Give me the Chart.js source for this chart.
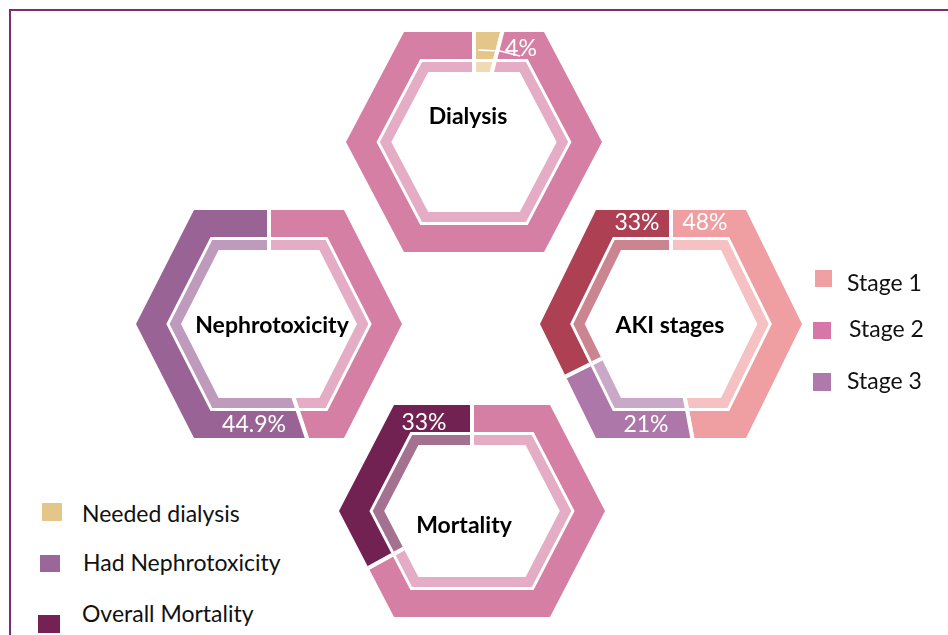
<!DOCTYPE html>
<html>
<head>
<meta charset="utf-8">
<script src="https://cdn.jsdelivr.net/npm/chart.js@4.4.0/dist/chart.umd.min.js"></script>
<style>
  html, body { margin: 0; padding: 0; background: #fff; overflow: hidden; }
  body { width: 948px; height: 635px; position: relative; font-family: Lato, "Open Sans", sans-serif; }
  .frame { position: absolute; left: 9px; top: 9px; width: 960px; height: 640px;
           border-left: 2px solid #7b2d6f; border-top: 2px solid #7b2d6f; }
  canvas.hex { position: absolute; }
  .box { position: absolute; }
  .txt { position: absolute; font-size: 23px; line-height: 26px; color: #111; white-space: nowrap; }
</style>
</head>
<body>
<div class="frame"></div>
<script>
// values
const dialysisLabels = ['Needed dialysis', 'No dialysis'];
const dialysisValues = [4, 96];
const nephroLabels = ['No nephrotoxicity', 'Had Nephrotoxicity'];
const nephroValues = [44.9, 55.1];
const akiLabels = ['Stage 1', 'Stage 3', 'Stage 2'];
const akiValues = [48, 21, 33];
const mortalityLabels = ['Survived', 'Overall Mortality'];
const mortalityValues = [67, 33];

const summaryLegend = ['Needed dialysis', 'Had Nephrotoxicity', 'Overall Mortality'];
const stageLegend = ['Stage 1', 'Stage 2', 'Stage 3'];

// hexagon outline, inset by d pixels on every side
function hexPath(ctx, cx, cy, h, d) {
    const L = Math.hypot(h.R - h.T, h.H);
    const R = h.R - d * L / h.H;
    const H = h.H - d;
    const T = R - (h.R - h.T) * H / h.H;
    ctx.moveTo(cx - T, cy - H);
    ctx.lineTo(cx + T, cy - H);
    ctx.lineTo(cx + R, cy);
    ctx.lineTo(cx + T, cy + H);
    ctx.lineTo(cx - T, cy + H);
    ctx.lineTo(cx - R, cy);
    ctx.closePath();
}

function centerOf(chart) {
    const arc = chart.getDatasetMeta(0).data[0];
    return { x: arc.x, y: arc.y };
}

// clips the doughnut arcs to a thick outer hexagon band and a thin inner band
const hexRing = {
    id: 'hexRing',
    beforeDatasetsDraw(chart, args, opts) {
        const ctx = chart.ctx;
        const c = centerOf(chart);
        ctx.save();
        ctx.beginPath();
        [0, 27, 30, 40].forEach(d => hexPath(ctx, c.x, c.y, opts.hex, d));
        ctx.clip('evenodd');
    },
    afterDatasetsDraw(chart, args, opts) {
        const ctx = chart.ctx;
        const c = centerOf(chart);
        ctx.restore();
        // lighter inner band
        ctx.save();
        ctx.beginPath();
        hexPath(ctx, c.x, c.y, opts.hex, 30);
        hexPath(ctx, c.x, c.y, opts.hex, 40);
        ctx.fillStyle = 'rgba(255,255,255,0.36)';
        ctx.fill('evenodd');
        ctx.restore();
    },
    afterDraw(chart, args, opts) {
        const ctx = chart.ctx;
        const c = centerOf(chart);
        const data = chart.data.datasets[0].data;
        ctx.save();
        ctx.textAlign = 'center';
        ctx.textBaseline = 'middle';
        ctx.fillStyle = '#000';
        ctx.font = 'bold 23px Lato';
        ctx.fillText(opts.title.text, c.x + opts.title.dx, c.y + opts.title.dy);
        ctx.fillStyle = '#fff';
        ctx.strokeStyle = '#fff';
        ctx.lineWidth = 1.5;
        ctx.font = '23px Lato';
        opts.tags.forEach(t => {
            ctx.fillText(data[t.index] + '%', c.x + t.dx, c.y + t.dy);
            if (t.leader) {
                ctx.beginPath();
                ctx.moveTo(c.x + t.leader[0][0], c.y + t.leader[0][1]);
                t.leader.slice(1).forEach(p => ctx.lineTo(c.x + p[0], c.y + p[1]));
                ctx.stroke();
            }
        });
        ctx.restore();
    }
};

function hexChart(cx, cy, labels, values, colors, hex, title, tags) {
    const canvas = document.createElement('canvas');
    canvas.className = 'hex';
    canvas.width = 300;
    canvas.height = 300;
    canvas.style.left = (cx - 150) + 'px';
    canvas.style.top = (cy - 150) + 'px';
    document.body.appendChild(canvas);
    return new Chart(canvas.getContext('2d'), {
        type: 'doughnut',
        data: {
            labels: labels,
            datasets: [{
                data: values,
                backgroundColor: colors,
                borderColor: '#fff',
                borderWidth: 4
            }]
        },
        options: {
            responsive: false,
            animation: false,
            events: [],
            cutout: 50,
            layout: { padding: 0 },
            plugins: {
                legend: { display: false },
                tooltip: { enabled: false },
                hexRing: { hex: hex, title: title, tags: tags }
            }
        },
        plugins: [hexRing]
    });
}

hexChart(474, 142, dialysisLabels, dialysisValues, ['#e5c68a', '#d57fa5'],
    { R: 128, H: 110, T: 70 },
    { text: 'Dialysis', dx: -6, dy: -25 },
    [{ index: 0, dx: 47, dy: -93, leader: [[4, -92], [26, -91], [46, -86]] }]);

hexChart(269, 324, nephroLabels, nephroValues, ['#d57fa5', '#9a6396'],
    { R: 133, H: 114, T: 75 },
    { text: 'Nephrotoxicity', dx: 3, dy: 2 },
    [{ index: 0, dx: -15, dy: 101 }]);

hexChart(671, 324, akiLabels, akiValues, ['#ef9ea2', '#ad77aa', '#ad4052'],
    { R: 131, H: 114, T: 75 },
    { text: 'AKI stages', dx: -1, dy: 2 },
    [{ index: 0, dx: 34, dy: -101 }, { index: 1, dx: -25, dy: 101 }, { index: 2, dx: -34, dy: -101 }]);

hexChart(472, 511, mortalityLabels, mortalityValues, ['#d57fa5', '#722252'],
    { R: 133, H: 106, T: 78 },
    { text: 'Mortality', dx: -8, dy: 15 },
    [{ index: 1, dx: -48, dy: -88 }]);

// legends
function legendItem(text, color, bx, by, bw, bh, tx, ty) {
    const box = document.createElement('div');
    box.className = 'box';
    box.style.cssText = `left:${bx}px;top:${by}px;width:${bw}px;height:${bh}px;background:${color}`;
    document.body.appendChild(box);
    const label = document.createElement('div');
    label.className = 'txt';
    label.textContent = text;
    label.style.left = tx + 'px';
    label.style.top = (ty - 13) + 'px';
    document.body.appendChild(label);
}

const summaryColors = ['#e5c68a', '#9b6699', '#742253'];
const summaryBoxes = [[42, 503, 20, 18, 82, 513], [40, 555, 20, 17, 83, 562], [38, 615, 22, 18, 82, 613]];
summaryLegend.forEach((t, i) => legendItem(t, summaryColors[i], ...summaryBoxes[i]));

const stageColors = ['#f0a0a2', '#d876a8', '#ae7aac'];
const stageBoxes = [[815, 270, 17, 17, 847, 282], [813, 322, 18, 17, 849, 328], [813, 373, 18, 18, 847, 380]];
stageLegend.forEach((t, i) => legendItem(t, stageColors[i], ...stageBoxes[i]));
</script>
</body>
</html>
